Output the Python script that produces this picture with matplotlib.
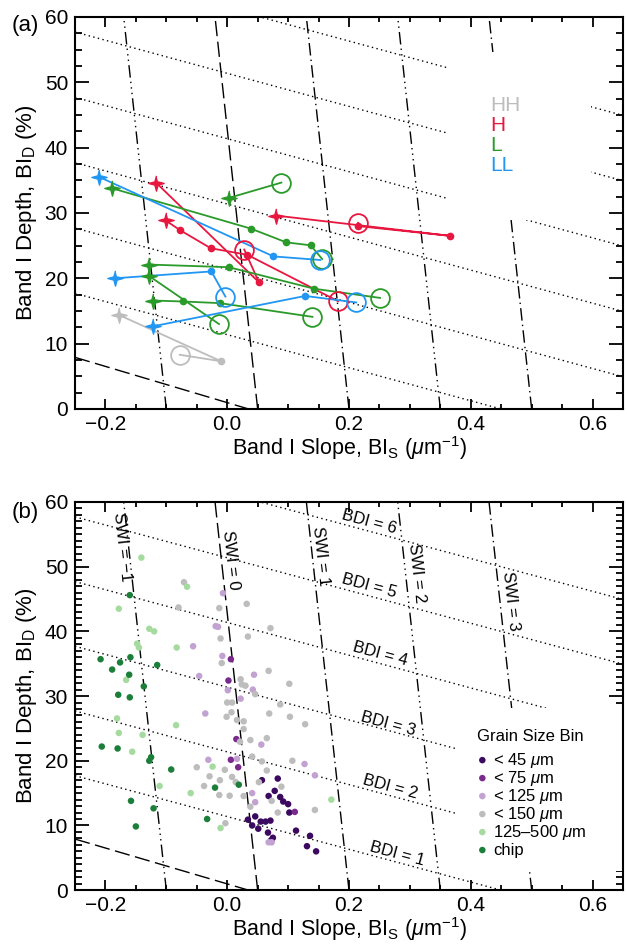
import numpy as np
import matplotlib
matplotlib.use('Agg')
import matplotlib.pyplot as plt
from matplotlib.ticker import MultipleLocator, FuncFormatter
from matplotlib.patches import Rectangle

plt.rcParams['font.family'] = ['Liberation Sans', 'DejaVu Sans']
plt.rcParams['mathtext.fontset'] = 'custom'
plt.rcParams['mathtext.rm'] = 'Liberation Sans'
plt.rcParams['mathtext.it'] = 'Liberation Sans:italic'
plt.rcParams['mathtext.bf'] = 'Liberation Sans:bold'

# ---- panel (a): start (star) -> intermediate (dots) -> end (open circle)
hh_x = [[-0.178, -0.010, -0.078]]
hh_y = [[14.4, 7.3, 8.3]]
h_x = [[-0.117, 0.052, 0.028],
       [-0.101, -0.078, -0.027, 0.033, 0.182],
       [0.080, 0.366, 0.214, 0.215]]
h_y = [[34.65, 19.4, 24.4],
       [28.85, 27.4, 24.6, 23.6, 16.5],
       [29.6, 26.5, 28.0, 28.5]]
l_x = [[-0.190, 0.039, 0.097, 0.137, 0.156],
       [0.0025, 0.089],
       [-0.128, 0.0025, 0.143, 0.251],
       [-0.129, -0.0135],
       [-0.122, -0.073, -0.012, 0.140]]
l_y = [[33.8, 27.6, 25.5, 25.05, 22.95],
       [32.3, 34.65],
       [22.1, 21.7, 18.4, 17.0],
       [20.4, 13.0],
       [16.6, 16.45, 16.2, 14.1]]
ll_x = [[-0.210, 0.076, 0.153],
        [-0.185, -0.026, -0.003],
        [-0.122, 0.128, 0.212]]
ll_y = [[35.5, 23.35, 22.8],
        [20.0, 21.05, 17.2],
        [12.65, 17.3, 16.3]]
group_names = ['HH', 'H', 'L', 'LL']

# ---- panel (b): grain size bins
lt45_x = [0.057, 0.083, 0.078, 0.068, 0.087, 0.092, 0.100, 0.102, 0.034, 0.046, 0.055,
          0.063, 0.071, 0.041, 0.051, 0.067, 0.075, 0.072, 0.113, 0.136, 0.131, 0.146]
lt45_y = [17.0, 17.25, 15.35, 14.55, 14.4, 13.7, 13.3, 12.0, 10.9, 11.4, 10.6,
          10.6, 10.75, 10.0, 9.5, 8.9, 8.1, 7.7, 9.2, 8.4, 6.8, 6.0]
lt75_x = [0.006, 0.002, 0.015, 0.006, 0.018, 0.111]
lt75_y = [35.7, 32.4, 23.35, 20.15, 19.0, 12.1]
lt125_x = [-0.007, -0.019, -0.015, -0.056, -0.008, -0.046, 0.044, 0.001, 0.042, 0.022,
           -0.036, -0.031, 0.016, 0.056, 0.127, 0.144, 0.041, 0.046, 0.068, 0.073]
lt125_y = [45.9, 40.8, 40.7, 37.7, 36.2, 33.1, 33.3, 30.9, 31.0, 29.6,
           27.3, 20.15, 20.3, 22.5, 19.5, 17.75, 15.0, 13.6, 7.4, 7.4]
lt150_x = [-0.071, -0.080, -0.013, 0.032, 0.071, -0.011, 0.034, -0.009, 0.068, 0.022,
           0.024, 0.030, 0.046, 0.102, 0.000, 0.008, 0.007, 0.087, 0.069, -0.001,
           0.016, 0.027, 0.103, 0.128, 0.027, 0.065, 0.038, 0.021, -0.050, -0.004,
           0.057, 0.065, 0.041, 0.052, -0.029, -0.012, 0.008, 0.014, -0.038, -0.013,
           0.004, 0.027, 0.038, 0.073, 0.089, 0.083, 0.107, 0.144, -0.003]
lt150_y = [47.6, 43.7, 43.6, 44.25, 40.5, 38.9, 39.2, 35.1, 33.9, 32.6,
           31.8, 31.6, 30.3, 31.9, 29.0, 29.0, 27.5, 28.7, 27.3, 26.8,
           26.3, 26.1, 26.8, 25.65, 24.9, 23.5, 23.2, 22.95, 19.0, 18.6,
           19.9, 18.5, 20.65, 16.7, 17.6, 17.0, 17.5, 16.7, 16.1, 14.7,
           14.6, 14.55, 12.9, 13.8, 16.0, 12.0, 20.0, 12.4, 10.35]
mid_x = [-0.141, -0.066, -0.178, -0.128, -0.120, -0.148, -0.145, -0.083, -0.166, -0.181,
         -0.178, -0.139, -0.156, -0.084, -0.111, -0.060, -0.024, -0.011, 0.171]
mid_y = [51.4, 46.9, 43.5, 40.4, 40.0, 38.1, 37.5, 37.5, 32.5, 26.55,
         24.3, 24.0, 21.4, 25.5, 16.1, 15.0, 19.1, 9.6, 14.0]
chip_x = [-0.160, -0.208, -0.159, -0.176, -0.189, -0.115, -0.161, -0.137, -0.179, -0.160,
          -0.206, -0.180, -0.128, -0.125, -0.092, -0.158, -0.121, -0.150, -0.020, 0.019,
          -0.033]
chip_y = [45.6, 35.7, 36.0, 35.2, 34.1, 34.8, 33.3, 31.5, 30.2, 29.8,
          22.2, 21.9, 20.0, 20.55, 18.65, 13.8, 12.65, 9.85, 15.85, 16.3,
          11.0]
bin_labels = ['< 45 $\\mu$m', '< 75 $\\mu$m', '< 125 $\\mu$m', '< 150 $\\mu$m',
              '125\u2013500 $\\mu$m', 'chip']

# ---- reference grid: BDI (dotted) and SWI (dash-dot) lines
bdi_values = [1, 2, 3, 4, 5, 6]
bdi_left = [17.7, 27.7, 37.7, 47.7, 57.7, 67.7]   # depth at slope = -0.25
bdi_slope = -25.3
bdi0_x = [-0.25, 0.035]
bdi0_y = [7.9, 0.0]
swi_values = [-1, 0, 1, 2, 3]
swi_bottom = [-0.10, 0.05, 0.20, 0.35, 0.50]       # slope at depth 0
swi_top = [-0.17, -0.02, 0.13, 0.28, 0.43]         # slope at depth 60

c_hh, c_h, c_l, c_ll = '#bdbdbd', '#e8173f', '#2a9a2a', '#2196f3'
bin_colors = ['#3b0a60', '#7a2a8c', '#c1a2d1', '#bdbdbd', '#a6dba0', '#1b7f3a']
swi_dash = [(0, (9, 3, 1, 3, 1, 3, 1, 3)), (0, (11, 4)), (0, (9, 3, 1, 3)),
            (0, (9, 3, 1, 3, 1, 3, 1, 3)), (0, (9, 3, 1, 3))]

ang = np.deg2rad(90 + 45 * np.arange(8))
rad = np.where(np.arange(8) % 2 == 0, 1.0, 0.3)
star = np.column_stack([rad * np.cos(ang), rad * np.sin(ang)])


def fmt_x(v, pos):
    s = '%.1f' % v
    return s.replace('-', '\u2212')


def draw_grid(ax):
    xx = np.array([-0.25, 0.65])
    for c in bdi_left:
        ax.plot(xx, c + bdi_slope * (xx + 0.25), color='k', lw=1.0,
                linestyle=(0, (1, 2.4)), zorder=1)
    ax.plot(bdi0_x, bdi0_y, color='k', lw=1.0, linestyle=(0, (11, 4)), zorder=1)
    for xb, xt, ls in zip(swi_bottom, swi_top, swi_dash):
        ax.plot([xb, xt], [0, 60], color='k', lw=1.0, linestyle=ls, zorder=1)


def style_axes(ax, ystep_minor):
    ax.set_xlim(-0.25, 0.65)
    ax.set_ylim(0, 60)
    ax.xaxis.set_major_locator(MultipleLocator(0.2))
    ax.xaxis.set_minor_locator(MultipleLocator(0.05))
    ax.yaxis.set_major_locator(MultipleLocator(10))
    ax.yaxis.set_minor_locator(MultipleLocator(ystep_minor))
    ax.xaxis.set_major_formatter(FuncFormatter(fmt_x))
    ax.tick_params(which='both', direction='in', top=True, right=True, labelsize=15,
                   width=1.3, color='k')
    ax.tick_params(axis='x', which='major', length=7, pad=4)
    ax.tick_params(axis='x', which='minor', length=3.5)
    ax.tick_params(axis='y', which='major', length=10, pad=5)
    ax.tick_params(axis='y', which='minor', length=5)
    for sp in ax.spines.values():
        sp.set_linewidth(1.5)
    ax.set_xlabel('Band I Slope, BI$_{\\rm S}$ ($\\mu$m$^{-1}$)', fontsize=15.5, labelpad=0.5)
    ax.set_ylabel('Band I Depth, BI$_{\\rm D}$ (%)', fontsize=16, labelpad=4)


fig = plt.figure(figsize=(6.27, 9.48), dpi=100)
ax1 = fig.add_axes([0.1196, 0.5686, 0.874, 0.4135])
ax2 = fig.add_axes([0.1196, 0.0610, 0.874, 0.4095])

# ---------------- panel (a)
draw_grid(ax1)
ax1.add_patch(Rectangle((0.362, 29.0), 0.235, 25.6, facecolor='white',
                        edgecolor='none', zorder=2))
groups = [(hh_x, hh_y, c_hh), (h_x, h_y, c_h), (l_x, l_y, c_l), (ll_x, ll_y, c_ll)]
for gx, gy, col in groups:
    for xs, ys in zip(gx, gy):
        ax1.plot(xs, ys, color=col, lw=1.3, zorder=3)
        if len(xs) > 2:
            ax1.plot(xs[1:-1], ys[1:-1], 'o', color=col, ms=4.5, zorder=4)
        ax1.plot(xs[0], ys[0], marker=star, color=col, ms=11, linestyle='none', zorder=4)
        ax1.plot(xs[-1], ys[-1], 'o', mfc='none', mec=col, mew=1.3, ms=13.5, zorder=4)
for i, (name, col) in enumerate(zip(group_names, [c_hh, c_h, c_l, c_ll])):
    ax1.text(0.432, 46.5 - 3.1 * i, name, color=col, fontsize=15, va='center',
             ha='left', zorder=5)
style_axes(ax1, 2.5)
fig.text(0.019, 0.9735, '(a)', fontsize=16, va='center', ha='left')

# ---------------- panel (b)
draw_grid(ax2)
ax2.add_patch(Rectangle((0.378, 3.0), 0.3, 25.2, facecolor='white',
                        edgecolor='none', zorder=2))
bins = [(lt45_x, lt45_y), (lt75_x, lt75_y), (lt125_x, lt125_y),
        (lt150_x, lt150_y), (mid_x, mid_y), (chip_x, chip_y)]
for (bx, by), col in zip(bins, bin_colors):
    ax2.scatter(bx, by, s=22, color=col, edgecolors='none', zorder=3)

# labels on the grid lines
swi_lab_x = [-0.172, 0.006, 0.153, 0.311, 0.465]
swi_lab_y = [53.0, 51.0, 51.7, 49.0, 44.7]
for v, lx, ly in zip(swi_values, swi_lab_x, swi_lab_y):
    ax2.text(lx, ly, 'SWI = %s' % str(v).replace('-', '\u2212'), fontsize=12,
             rotation=-83.7, ha='center', va='center', rotation_mode='anchor', zorder=4)
bdi_lab_x = [0.280, 0.267, 0.264, 0.251, 0.234, 0.234]
bdi_lab_y = [5.6, 16.0, 25.75, 36.5, 47.0, 56.9]
for v, lx, ly in zip(bdi_values, bdi_lab_x, bdi_lab_y):
    ax2.text(lx, ly, 'BDI = %d' % v, fontsize=12, rotation=-15, ha='center',
             va='center', rotation_mode='anchor', zorder=4)

# legend
ax2.text(0.411, 23.8, 'Grain Size Bin', fontsize=12, va='center', ha='left', zorder=5)
for i, (lab, col) in enumerate(zip(bin_labels, bin_colors)):
    yy = 20.1 - 2.78 * i
    ax2.scatter([0.419], [yy], s=22, color=col, edgecolors='none', zorder=5)
    ax2.text(0.437, yy, lab, fontsize=12, va='center', ha='left', zorder=5)
style_axes(ax2, 1)
fig.text(0.019, 0.4597, '(b)', fontsize=16, va='center', ha='left')

fig.savefig('out.png', dpi=100)
